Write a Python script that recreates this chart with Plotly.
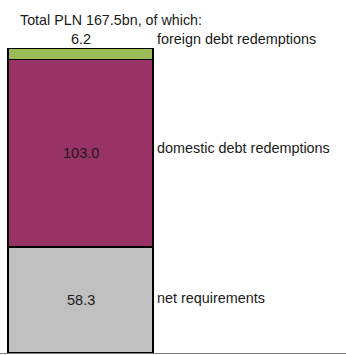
import plotly.graph_objects as go

categories = ["net requirements", "domestic debt redemptions", "foreign debt redemptions"]
values = [58.3, 103.0, 6.2]
colors = ["#C0C0C0", "#993366", "#9BBB59"]
total = 167.5
title_text = "Total PLN 167.5bn, of which:"

FONT = "Liberation Sans, Arial, sans-serif"
TXT = "#1a1a1a"

fig = go.Figure()
for cat, v, c in zip(categories, values, colors):
    fig.add_trace(go.Bar(x=[0], y=[v], name=cat, width=1,
                         marker=dict(color=c, line=dict(color="#000000", width=1.5)),
                         showlegend=False, hoverinfo="skip"))

annotations = []
base = 0
for i, (cat, v) in enumerate(zip(categories, values)):
    mid = base + v / 2
    if i < len(values) - 1:
        annotations.append(dict(x=0, y=mid, text=f"{v:.1f}", showarrow=False,
                                xref="x", yref="y", font=dict(size=14.5, color=TXT, family=FONT)))
        annotations.append(dict(x=0.5, y=mid, text=cat, showarrow=False, xanchor="left",
                                xshift=2, yshift=2 if i == 0 else 5,
                                xref="x", yref="y", font=dict(size=14.4, color=TXT, family=FONT)))
    else:
        annotations.append(dict(x=0, y=base + v, text=f"{v:.1f}", showarrow=False, yanchor="bottom",
                                yshift=-1, xref="x", yref="y",
                                font=dict(size=14.5, color=TXT, family=FONT)))
        annotations.append(dict(x=0.5, y=base + v, text=cat, showarrow=False, xanchor="left",
                                yanchor="bottom", xshift=2, yshift=-1,
                                xref="x", yref="y", font=dict(size=14.4, color=TXT, family=FONT)))
    base += v

annotations.append(dict(xref="paper", yref="paper", x=18 / 346, y=1 + (48 - 20) / 305,
                        xanchor="left", yanchor="middle", text=title_text, showarrow=False,
                        font=dict(size=14.3, color=TXT, family=FONT)))

fig.update_layout(
    width=346, height=355,
    margin=dict(l=0, r=0, t=48, b=2, pad=0),
    paper_bgcolor="white", plot_bgcolor="white",
    barmode="stack",
    xaxis=dict(range=[-0.5 - 8 / 145, -0.5 + 338 / 145], showgrid=False, zeroline=False,
               showticklabels=False, showline=True, linecolor="#808080", linewidth=1, ticks=""),
    yaxis=dict(range=[0, total], showgrid=False, zeroline=False, showticklabels=False,
               showline=False, ticks=""),
    annotations=annotations,
)

fig.write_html("out.html")
